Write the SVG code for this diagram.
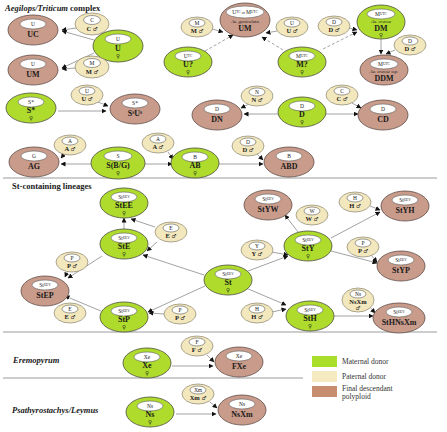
<svg xmlns="http://www.w3.org/2000/svg" width="447" height="432" viewBox="0 0 447 432">
<style>
.m{fill:#aedb2c;stroke:#4d4d3a;stroke-width:0.8}
.p{fill:#f3e8bd;stroke:#8a8470;stroke-width:0.7}
.d{fill:#c99b8a;stroke:#5e4a44;stroke-width:0.8}
.in{fill:#fff;stroke:#5a5a5a;stroke-width:0.6}
text{font-family:"Liberation Serif","DejaVu Serif",serif;fill:#1a1a1a;text-anchor:middle}
.t{font-weight:bold;font-size:8px}
.tp{font-weight:bold;font-size:6.5px}
.s{font-size:5.5px}
.i{font-style:italic;font-size:4.8px}
.sym{font-family:"DejaVu Sans",sans-serif;font-size:5.5px;font-weight:normal}
.h{font-weight:bold;font-size:8.5px;text-anchor:start}
.lg{font-size:7.5px;text-anchor:start;fill:#333}
.sep{stroke:#bdbdbd;stroke-width:1.6}
.c line{stroke:#8c8c8c;stroke-width:0.8;marker-end:url(#ah)}
.c .ds{stroke-dasharray:3 2}
</style>
<defs>
<marker id="ah" viewBox="0 0 10 10" refX="9" refY="5" markerWidth="5" markerHeight="5" markerUnits="userSpaceOnUse" orient="auto">
<path d="M0,0 L10,5 L0,10 z" fill="#111"/>
</marker>
</defs>
<rect width="447" height="432" fill="#fff"/>

<!-- headers and separators -->
<text class="h" x="5" y="11"><tspan font-style="italic">Aegilops/Triticum</tspan> complex</text>
<text class="h" x="12" y="189">St-containing lineages</text>
<text class="h" x="13" y="363" font-style="italic">Eremopyrum</text>
<text class="h" x="12" y="413" font-style="italic">Psathyrostachys/Leymus</text>
<line class="sep" x1="3" y1="178" x2="437" y2="178"/>
<line class="sep" x1="3" y1="332" x2="437" y2="332"/>
<line class="sep" x1="3" y1="378" x2="303" y2="378"/>

<!-- connectors -->
<g id="connectors" class="c">
<line x1="94" y1="40" x2="62" y2="31"/>
<line x1="76" y1="28" x2="62" y2="30"/>
<line x1="94" y1="53" x2="62" y2="68"/>
<line x1="76" y1="68" x2="62" y2="69"/>
<line x1="212" y1="29" x2="223" y2="32"/>
<line class="ds" x1="205" y1="51" x2="233" y2="35"/>
<line x1="277" y1="31" x2="266" y2="33"/>
<line class="ds" x1="283" y1="50" x2="262" y2="37"/>
<line class="ds" x1="323" y1="49" x2="357" y2="32"/>
<line x1="349" y1="28" x2="357" y2="30"/>
<line x1="381" y1="39" x2="381" y2="54"/>
<line x1="395" y1="50" x2="386" y2="54"/>
<line x1="58" y1="111" x2="106" y2="111"/>
<line x1="98" y1="102" x2="108" y2="106"/>
<line x1="278" y1="114" x2="244" y2="114"/>
<line x1="249" y1="104" x2="241" y2="108"/>
<line x1="325" y1="114" x2="358" y2="114"/>
<line x1="352" y1="103" x2="361" y2="108"/>
<line x1="91" y1="164" x2="61" y2="164"/>
<line x1="65" y1="153" x2="61" y2="158"/>
<line x1="145" y1="164" x2="172" y2="164"/>
<line x1="168" y1="152" x2="173" y2="159"/>
<line x1="218" y1="164" x2="263" y2="164"/>
<line x1="257" y1="154" x2="263" y2="160"/>
<line x1="124" y1="229" x2="124" y2="218"/>
<line x1="155" y1="227" x2="131" y2="219"/>
<line x1="157" y1="242" x2="147" y2="251"/>
<line x1="204" y1="275" x2="143" y2="255"/>
<line x1="102" y1="256" x2="68" y2="278"/>
<line x1="68" y1="270" x2="65" y2="277"/>
<line x1="101" y1="311" x2="65" y2="296"/>
<line x1="205" y1="286" x2="148" y2="312"/>
<line x1="164" y1="314" x2="149" y2="313"/>
<line x1="248" y1="271" x2="288" y2="256"/>
<line x1="272" y1="252" x2="288" y2="255"/>
<line x1="298" y1="232" x2="285" y2="215"/>
<line x1="331" y1="238" x2="380" y2="212"/>
<line x1="370" y1="206" x2="380" y2="210"/>
<line x1="331" y1="251" x2="377" y2="263"/>
<line x1="371" y1="255" x2="377" y2="262"/>
<line x1="246" y1="288" x2="286" y2="305"/>
<line x1="272" y1="312" x2="286" y2="309"/>
<line x1="334" y1="316" x2="373" y2="316"/>
<line x1="370" y1="307" x2="375" y2="313"/>
<line x1="172" y1="366" x2="213" y2="366"/>
<line x1="207" y1="355" x2="214" y2="362"/>
<line x1="176" y1="414" x2="216" y2="414"/>
<line x1="210" y1="402" x2="217" y2="408"/>
</g>

<!-- Aegilops/Triticum complex nodes -->
<g id="UC" transform="translate(33,30)"><ellipse class="d" rx="25" ry="15"/><ellipse class="in" cy="-6" rx="13" ry="5"/><text class="s" y="-4">U</text><text class="t" y="7">UC</text></g>
<g id="C_p" transform="translate(92,24)"><ellipse class="p" rx="17" ry="11"/><ellipse class="in" cy="-4" rx="8.5" ry="4.5"/><text class="s" y="-2">C</text><text class="tp" y="7">C <tspan class="sym">♂</tspan></text></g>
<g id="U_m" transform="translate(118,46)"><ellipse class="m" rx="25" ry="16"/><ellipse class="in" cy="-7" rx="13" ry="5"/><text class="s" y="-5">U</text><text class="t" y="5">U</text><text class="sym" y="12">♀</text></g>
<g id="UM1" transform="translate(33,70)"><ellipse class="d" rx="25" ry="15"/><ellipse class="in" cy="-6" rx="13" ry="5"/><text class="s" y="-4">U</text><text class="t" y="7">UM</text></g>
<g id="M_p1" transform="translate(92,67)"><ellipse class="p" rx="17" ry="11"/><ellipse class="in" cy="-4" rx="8.5" ry="4.5"/><text class="s" y="-2">M</text><text class="tp" y="7">M <tspan class="sym">♂</tspan></text></g>

<g id="UM2" transform="translate(245,20)"><ellipse class="d" rx="25" ry="17"/><ellipse class="in" cy="-8" rx="19" ry="6"/><text class="s" y="-6" font-size="5">U<tspan dy="-1.5" font-size="3.5">TC</tspan><tspan dy="1.5" font-size="4"> or </tspan>M<tspan dy="-1.5" font-size="3.5">UTC</tspan></text><text class="i" y="2.5">Ae. geniculata</text><text class="t" y="11">UM</text></g>
<g id="M_p2" transform="translate(197,27)"><ellipse class="p" rx="16" ry="10"/><ellipse class="in" cy="-4" rx="8" ry="4"/><text class="s" y="-2">M</text><text class="tp" y="6">M <tspan class="sym">♂</tspan></text></g>
<g id="Uq" transform="translate(188,62)"><ellipse class="m" rx="24" ry="15"/><ellipse class="in" cy="-6" rx="13" ry="5"/><text class="s" y="-4">U<tspan dy="-1.5" font-size="3.5">TC</tspan></text><text class="t" y="5">U?</text><text class="sym" y="12">♀</text></g>
<g id="U_p2" transform="translate(292,27)"><ellipse class="p" rx="16" ry="10"/><ellipse class="in" cy="-4" rx="8" ry="4"/><text class="s" y="-2">U</text><text class="tp" y="6">U <tspan class="sym">♂</tspan></text></g>
<g id="Mq" transform="translate(302,62)"><ellipse class="m" rx="24" ry="15"/><ellipse class="in" cy="-6" rx="13" ry="5"/><text class="s" y="-4">M<tspan dy="-1.5" font-size="3.5">UTC</tspan></text><text class="t" y="5">M?</text><text class="sym" y="12">♀</text></g>
<g id="D_p1" transform="translate(334,26)"><ellipse class="p" rx="16" ry="10"/><ellipse class="in" cy="-4" rx="8" ry="4"/><text class="s" y="-2">D</text><text class="tp" y="6">D <tspan class="sym">♂</tspan></text></g>
<g id="DM" transform="translate(381,22)"><ellipse class="m" rx="24" ry="17"/><ellipse class="in" cy="-8" rx="14" ry="5"/><text class="s" y="-6">M<tspan dy="-1.5" font-size="3.5">UTC</tspan></text><text class="i" y="0.5">Ae. crassa</text><text class="t" y="8.5" font-size="7.5">DM</text><text class="sym" y="14.5">♀</text></g>
<g id="D_p2" transform="translate(410,45)"><ellipse class="p" rx="16" ry="10"/><ellipse class="in" cy="-4" rx="8" ry="4"/><text class="s" y="-2">D</text><text class="tp" y="6">D <tspan class="sym">♂</tspan></text></g>
<g id="DDM" transform="translate(384,70)"><ellipse class="d" rx="24" ry="15"/><ellipse class="in" cy="-6" rx="14" ry="5"/><text class="s" y="-4">M<tspan dy="-1.5" font-size="3.5">UTC</tspan></text><text class="i" y="3">Ae. crassa ssp.</text><text class="t" y="11">DDM</text></g>

<g id="Ss_m" transform="translate(31,108)"><ellipse class="m" rx="25" ry="15"/><ellipse class="in" cy="-6" rx="13" ry="5"/><text class="s" y="-4">S*</text><text class="t" y="5">S*</text><text class="sym" y="12">♀</text></g>
<g id="U_p3" transform="translate(87,95)"><ellipse class="p" rx="16" ry="10"/><ellipse class="in" cy="-4" rx="8" ry="4"/><text class="s" y="-2">U</text><text class="tp" y="6">U <tspan class="sym">♂</tspan></text></g>
<g id="SsUs" transform="translate(135,109)"><ellipse class="d" rx="25" ry="15"/><ellipse class="in" cy="-6" rx="13" ry="5"/><text class="s" y="-4">S*</text><text class="t" y="7">S<tspan dy="-2.5" font-size="5.5">s</tspan><tspan dy="2.5">U</tspan><tspan dy="-2.5" font-size="5.5">s</tspan></text></g>
<g id="DN" transform="translate(217,115)"><ellipse class="d" rx="25" ry="15"/><ellipse class="in" cy="-6" rx="13" ry="5"/><text class="s" y="-4">D</text><text class="t" y="7">DN</text></g>
<g id="N_p" transform="translate(257,96)"><ellipse class="p" rx="16" ry="10"/><ellipse class="in" cy="-4" rx="8" ry="4"/><text class="s" y="-2">N</text><text class="tp" y="6">N <tspan class="sym">♂</tspan></text></g>
<g id="D_m" transform="translate(302,112)"><ellipse class="m" rx="24" ry="15"/><ellipse class="in" cy="-6" rx="13" ry="5"/><text class="s" y="-4">D</text><text class="t" y="5">D</text><text class="sym" y="12">♀</text></g>
<g id="C_p2" transform="translate(342,95)"><ellipse class="p" rx="16" ry="10"/><ellipse class="in" cy="-4" rx="8" ry="4"/><text class="s" y="-2">C</text><text class="tp" y="6">C <tspan class="sym">♂</tspan></text></g>
<g id="CD" transform="translate(383,115)"><ellipse class="d" rx="25" ry="15"/><ellipse class="in" cy="-6" rx="13" ry="5"/><text class="s" y="-4">D</text><text class="t" y="7">CD</text></g>

<g id="AG" transform="translate(34,162)"><ellipse class="d" rx="25" ry="15"/><ellipse class="in" cy="-6" rx="13" ry="5"/><text class="s" y="-4">G</text><text class="t" y="7">AG</text></g>
<g id="A_p1" transform="translate(70,145)"><ellipse class="p" rx="16" ry="10"/><ellipse class="in" cy="-4" rx="8" ry="4"/><text class="s" y="-2">A</text><text class="tp" y="6">A <tspan class="sym">♂</tspan></text></g>
<g id="SBG" transform="translate(118,163)"><ellipse class="m" rx="27" ry="16"/><ellipse class="in" cy="-7" rx="14" ry="5"/><text class="s" y="-5">S</text><text class="t" y="5">S(B/G)</text><text class="sym" y="12">♀</text></g>
<g id="A_p2" transform="translate(158,143)"><ellipse class="p" rx="16" ry="10"/><ellipse class="in" cy="-4" rx="8" ry="4"/><text class="s" y="-2">A</text><text class="tp" y="6">A <tspan class="sym">♂</tspan></text></g>
<g id="AB" transform="translate(195,163)"><ellipse class="m" rx="24" ry="15"/><ellipse class="in" cy="-6" rx="13" ry="5"/><text class="s" y="-4">B</text><text class="t" y="5">AB</text><text class="sym" y="12">♀</text></g>
<g id="D_p3" transform="translate(248,146)"><ellipse class="p" rx="16" ry="10"/><ellipse class="in" cy="-4" rx="8" ry="4"/><text class="s" y="-2">D</text><text class="tp" y="6">D <tspan class="sym">♂</tspan></text></g>
<g id="ABD" transform="translate(289,162)"><ellipse class="d" rx="25" ry="15"/><ellipse class="in" cy="-6" rx="13" ry="5"/><text class="s" y="-4">B</text><text class="t" y="7">ABD</text></g>

<!-- St-containing lineages -->
<g id="StEE" transform="translate(124,203)"><ellipse class="m" rx="24" ry="15"/><ellipse class="in" cy="-6" rx="13" ry="5"/><text class="s" y="-4">St<tspan dy="-1.5" font-size="3.5">EEV</tspan></text><text class="t" y="5">StEE</text><text class="sym" y="12">♀</text></g>
<g id="E_p1" transform="translate(171,232)"><ellipse class="p" rx="16" ry="10"/><ellipse class="in" cy="-4" rx="8" ry="4"/><text class="s" y="-2">E</text><text class="tp" y="6">E <tspan class="sym">♂</tspan></text></g>
<g id="StE" transform="translate(124,244)"><ellipse class="m" rx="24" ry="15"/><ellipse class="in" cy="-6" rx="13" ry="5"/><text class="s" y="-4">St<tspan dy="-1.5" font-size="3.5">EEV</tspan></text><text class="t" y="5">StE</text><text class="sym" y="12">♀</text></g>
<g id="P_p1" transform="translate(72,262)"><ellipse class="p" rx="16" ry="10"/><ellipse class="in" cy="-4" rx="8" ry="4"/><text class="s" y="-2">P</text><text class="tp" y="6">P <tspan class="sym">♂</tspan></text></g>
<g id="StEP" transform="translate(45,291)"><ellipse class="d" rx="24" ry="15"/><ellipse class="in" cy="-6" rx="13" ry="5"/><text class="s" y="-4">St<tspan dy="-1.5" font-size="3.5">EEV</tspan></text><text class="t" y="7">StEP</text></g>
<g id="E_p2" transform="translate(70,313)"><ellipse class="p" rx="16" ry="10"/><ellipse class="in" cy="-4" rx="8" ry="4"/><text class="s" y="-2">E</text><text class="tp" y="6">E <tspan class="sym">♂</tspan></text></g>
<g id="StP" transform="translate(124,317)"><ellipse class="m" rx="24" ry="15"/><ellipse class="in" cy="-6" rx="13" ry="5"/><text class="s" y="-4">St<tspan dy="-1.5" font-size="3.5">EEV</tspan></text><text class="t" y="5">StP</text><text class="sym" y="12">♀</text></g>
<g id="P_p2" transform="translate(180,314)"><ellipse class="p" rx="16" ry="10"/><ellipse class="in" cy="-4" rx="8" ry="4"/><text class="s" y="-2">P</text><text class="tp" y="6">P <tspan class="sym">♂</tspan></text></g>
<g id="St" transform="translate(228,280)"><ellipse class="m" rx="24" ry="15"/><ellipse class="in" cy="-6" rx="13" ry="5"/><text class="s" y="-4">St<tspan dy="-1.5" font-size="3.5">EEV</tspan></text><text class="t" y="5">St</text><text class="sym" y="12">♀</text></g>
<g id="StYW" transform="translate(268,205)"><ellipse class="d" rx="24" ry="15"/><ellipse class="in" cy="-6" rx="13" ry="5"/><text class="s" y="-4">St<tspan dy="-1.5" font-size="3.5">EEV</tspan></text><text class="t" y="7">StYW</text></g>
<g id="W_p" transform="translate(312,215)"><ellipse class="p" rx="16" ry="10"/><ellipse class="in" cy="-4" rx="8" ry="4"/><text class="s" y="-2">W</text><text class="tp" y="6">W <tspan class="sym">♂</tspan></text></g>
<g id="H_p1" transform="translate(355,202)"><ellipse class="p" rx="16" ry="10"/><ellipse class="in" cy="-4" rx="8" ry="4"/><text class="s" y="-2">H</text><text class="tp" y="6">H <tspan class="sym">♂</tspan></text></g>
<g id="StYH" transform="translate(405,206)"><ellipse class="d" rx="24" ry="15"/><ellipse class="in" cy="-6" rx="13" ry="5"/><text class="s" y="-4">St<tspan dy="-1.5" font-size="3.5">EEV</tspan></text><text class="t" y="7">StYH</text></g>
<g id="Y_p" transform="translate(257,250)"><ellipse class="p" rx="16" ry="10"/><ellipse class="in" cy="-4" rx="8" ry="4"/><text class="s" y="-2">Y</text><text class="tp" y="6">Y <tspan class="sym">♂</tspan></text></g>
<g id="StY" transform="translate(308,246)"><ellipse class="m" rx="24" ry="15"/><ellipse class="in" cy="-6" rx="13" ry="5"/><text class="s" y="-4">St<tspan dy="-1.5" font-size="3.5">EEV</tspan></text><text class="t" y="5">StY</text><text class="sym" y="12">♀</text></g>
<g id="P_p3" transform="translate(363,247)"><ellipse class="p" rx="16" ry="10"/><ellipse class="in" cy="-4" rx="8" ry="4"/><text class="s" y="-2">P</text><text class="tp" y="6">P <tspan class="sym">♂</tspan></text></g>
<g id="StYP" transform="translate(401,266)"><ellipse class="d" rx="24" ry="15"/><ellipse class="in" cy="-6" rx="13" ry="5"/><text class="s" y="-4">St<tspan dy="-1.5" font-size="3.5">EEV</tspan></text><text class="t" y="7">StYP</text></g>
<g id="H_p2" transform="translate(257,313)"><ellipse class="p" rx="16" ry="10"/><ellipse class="in" cy="-4" rx="8" ry="4"/><text class="s" y="-2">H</text><text class="tp" y="6">H <tspan class="sym">♂</tspan></text></g>
<g id="StH" transform="translate(310,316)"><ellipse class="m" rx="24" ry="15"/><ellipse class="in" cy="-6" rx="13" ry="5"/><text class="s" y="-4">St<tspan dy="-1.5" font-size="3.5">EEV</tspan></text><text class="t" y="5">StH</text><text class="sym" y="12">♀</text></g>
<g id="NsXm_p" transform="translate(358,300)"><ellipse class="p" rx="16" ry="12"/><ellipse class="in" cy="-6" rx="8" ry="4"/><text class="s" y="-4">Ns</text><text class="tp" y="4">NsXm</text><text class="sym" y="10">♂</text></g>
<g id="StHNsXm" transform="translate(399,318)"><ellipse class="d" rx="26" ry="15"/><ellipse class="in" cy="-6" rx="13" ry="5"/><text class="s" y="-4">St<tspan dy="-1.5" font-size="3.5">EEV</tspan></text><text class="t" y="7" font-size="7">StHNsXm</text></g>

<!-- Eremopyrum -->
<g id="Xe" transform="translate(147,363)"><ellipse class="m" rx="24" ry="15"/><ellipse class="in" cy="-6" rx="13" ry="5"/><text class="s" y="-4">Xe</text><text class="t" y="5">Xe</text><text class="sym" y="12">♀</text></g>
<g id="F_p" transform="translate(197,346)"><ellipse class="p" rx="16" ry="10"/><ellipse class="in" cy="-4" rx="8" ry="4"/><text class="s" y="-2">F</text><text class="tp" y="6">F <tspan class="sym">♂</tspan></text></g>
<g id="FXe" transform="translate(239,362)"><ellipse class="d" rx="24" ry="15"/><ellipse class="in" cy="-6" rx="13" ry="5"/><text class="s" y="-4">Xe</text><text class="t" y="7">FXe</text></g>

<!-- Psathyrostachys/Leymus -->
<g id="Ns" transform="translate(150,412)"><ellipse class="m" rx="24" ry="15"/><ellipse class="in" cy="-6" rx="13" ry="5"/><text class="s" y="-4">Ns</text><text class="t" y="5">Ns</text><text class="sym" y="12">♀</text></g>
<g id="Xm_p" transform="translate(198,394)"><ellipse class="p" rx="16" ry="10"/><ellipse class="in" cy="-4" rx="8" ry="4"/><text class="s" y="-2">Xm</text><text class="tp" y="6">Xm <tspan class="sym">♂</tspan></text></g>
<g id="NsXm" transform="translate(242,410)"><ellipse class="d" rx="24" ry="15"/><ellipse class="in" cy="-6" rx="13" ry="5"/><text class="s" y="-4">Ns</text><text class="t" y="7">NsXm</text></g>

<!-- legend -->
<g id="legend">
<rect x="312" y="356" width="25" height="11" fill="#a9df2a"/>
<rect x="312" y="371" width="25" height="11" fill="#f5eac0"/>
<rect x="312" y="386" width="25" height="11" fill="#c68e6e"/>
<text class="lg" x="342" y="364">Maternal donor</text>
<text class="lg" x="342" y="379">Paternal donor</text>
<text class="lg" x="342" y="391">Final descendant</text>
<text class="lg" x="342" y="399">polyploid</text>
</g>
</svg>
